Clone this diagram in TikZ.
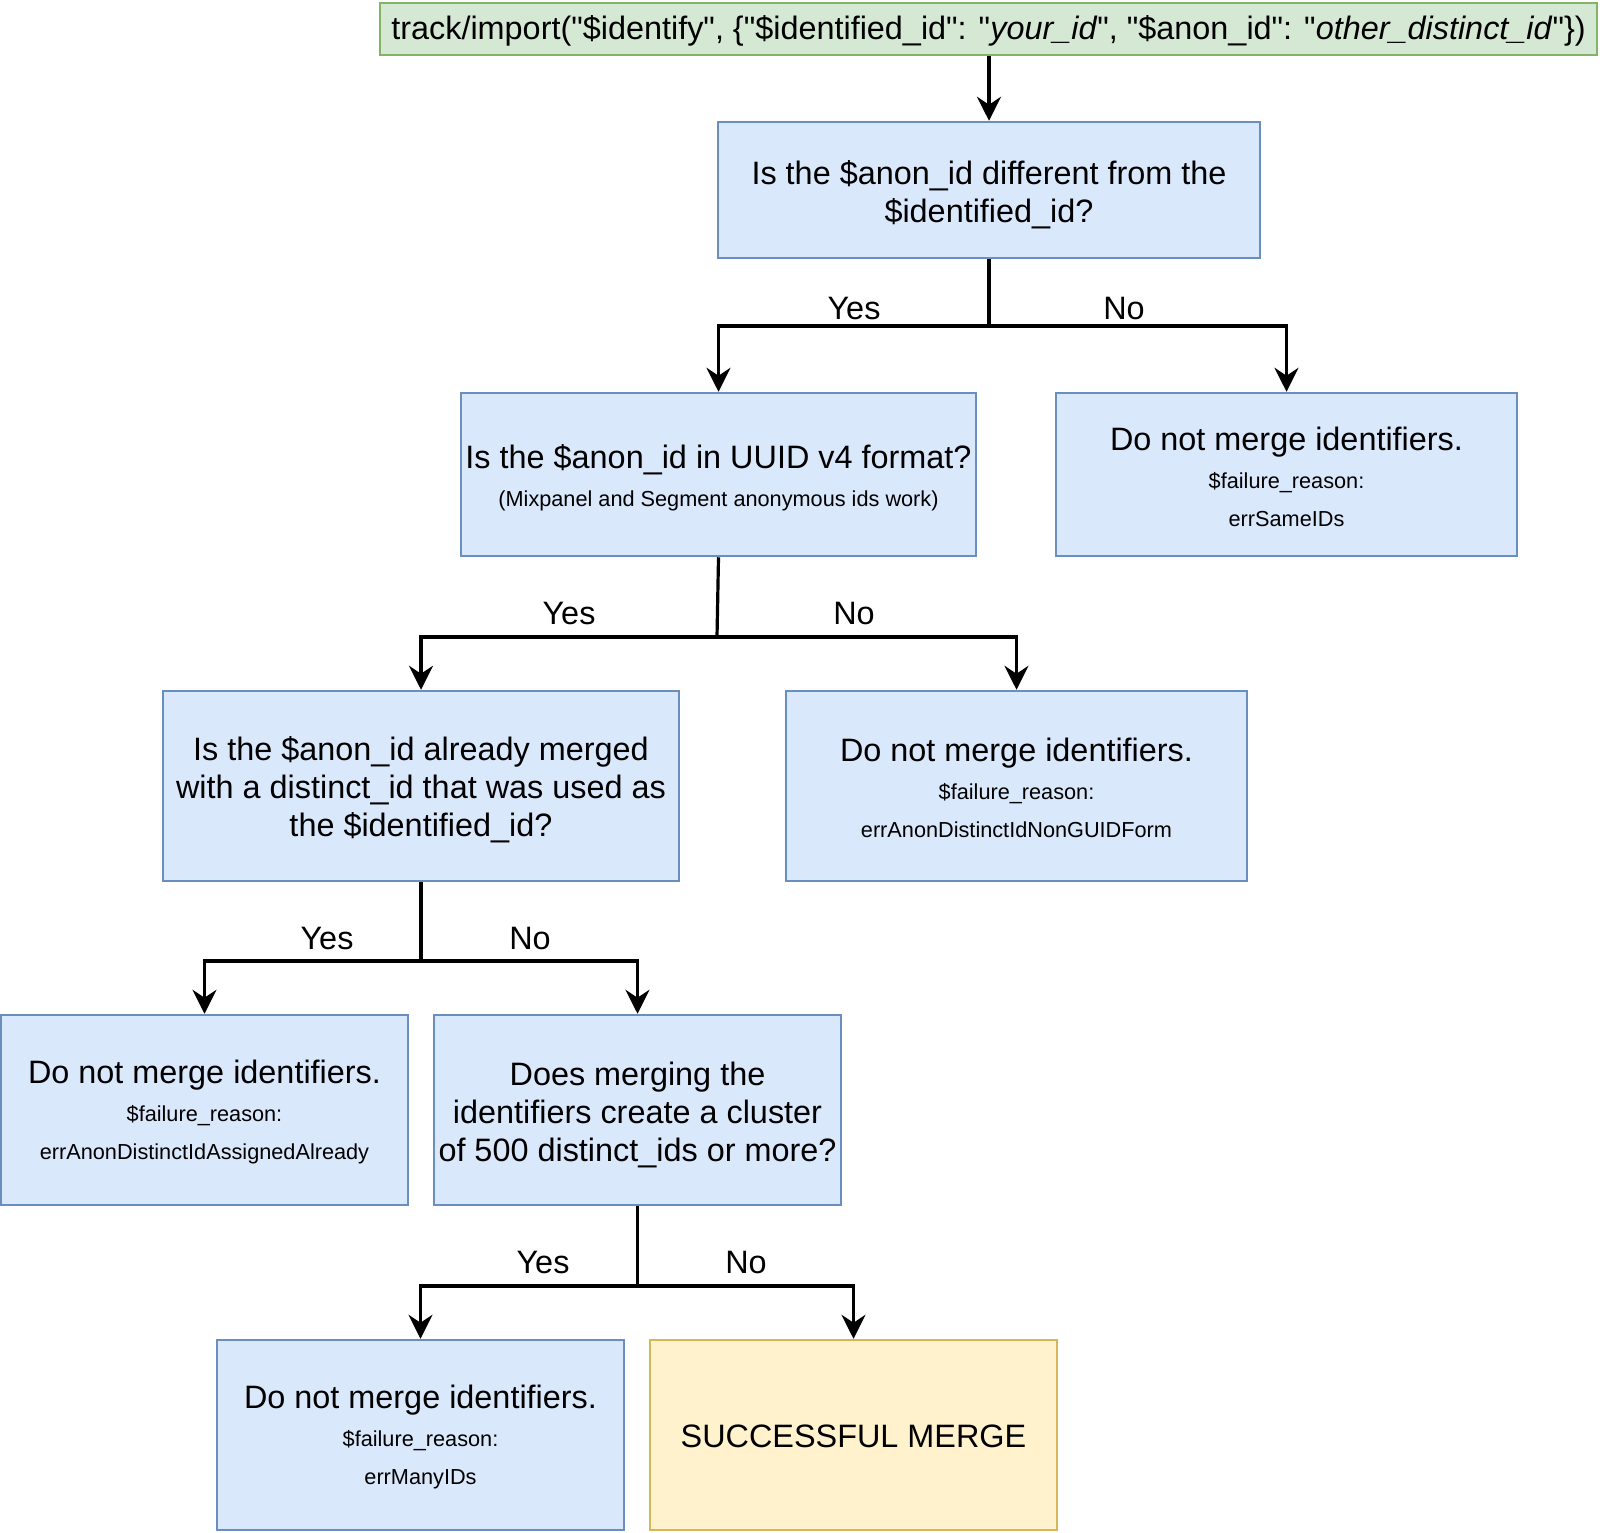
\documentclass[tikz,border=0pt]{standalone}
\usepackage{fontspec}
\setmainfont{Liberation Sans}[Ligatures=TeXOff]
\usetikzlibrary{arrows.meta}
\definecolor{bfill}{HTML}{DAE8FC}
\definecolor{bline}{HTML}{6C8EBF}
\definecolor{gfill}{HTML}{D5E8D4}
\definecolor{gline}{HTML}{82B366}
\definecolor{yfill}{HTML}{FFF2CC}
\definecolor{yline}{HTML}{D6B656}
\newcommand{\bigf}{\fontsize{32.4}{38}\selectfont}
\newcommand{\smallf}{\fontsize{21.7}{38}\selectfont}
\newcommand{\qq}{\char34\relax}
\tikzset{
  basebox/.style={rectangle, line width=2.5pt, inner sep=0pt},
  bluebox/.style={basebox, draw=bline, fill=bfill},
  greenbox/.style={basebox, draw=gline, fill=gfill},
  yellowbox/.style={basebox, draw=yline, fill=yfill},
  txt/.style={inner sep=0pt, align=center, font=\bigf},
  conn/.style={line width=3.2pt, draw=black, -{Stealth[length=24pt,width=24pt,inset=8pt]}},
  plainconn/.style={line width=3.2pt, draw=black},
  lbl/.style={font=\bigf, inner sep=0pt}
}
\begin{document}
\begin{tikzpicture}[x=1pt,y=-1pt]
\useasboundingbox (0,0) rectangle (1600,1532);

% boxes
\node[greenbox, minimum width=1217pt, minimum height=52pt] (top) at (988.5,29) {};
\node[bluebox, minimum width=542pt, minimum height=136pt] (q1) at (989,190) {};
\node[bluebox, minimum width=515pt, minimum height=163pt] (q2) at (718.5,474.5) {};
\node[bluebox, minimum width=461pt, minimum height=163pt] (f1) at (1286.5,474.5) {};
\node[bluebox, minimum width=516pt, minimum height=190pt] (q3) at (421,786) {};
\node[bluebox, minimum width=461pt, minimum height=190pt] (f2) at (1016.5,786) {};
\node[bluebox, minimum width=407pt, minimum height=190pt] (f3) at (204.5,1110) {};
\node[bluebox, minimum width=407pt, minimum height=190pt] (q4) at (637.5,1110) {};
\node[bluebox, minimum width=407pt, minimum height=190pt] (f4) at (420.5,1435) {};
\node[yellowbox, minimum width=407pt, minimum height=190pt] (ok) at (853.5,1435) {};

% texts
\node[txt] (topt) at ([yshift=-2pt]top.center)
  {track/import(\qq\$identify\qq, \{\qq\$identified\_id\qq: \qq\textit{your\_id}\qq, \qq\$anon\_id\qq: \qq\textit{other\_distinct\_id}\qq\})};
\node[txt] (q1t) at ([yshift=-5pt]q1.center)
  {Is the \$anon\_id different from the\\\$identified\_id?};
\node[txt] (q2t) at ([yshift=-3pt]q2.center)
  {Is the \$anon\_id in UUID v4 format?\\{\smallf (Mixpanel and Segment anonymous ids work)}};
\node[txt] (f1t) at ([yshift=-2pt]f1.center)
  {Do not merge identifiers.\\{\smallf \$failure\_reason:}\\{\smallf errSameIDs}};
\node[txt] (q3t) at ([yshift=-4pt]q3.center)
  {Is the \$anon\_id already merged\\with a distinct\_id that was used as\\the \$identified\_id?};
\node[txt] (f2t) at ([yshift=-2pt]f2.center)
  {Do not merge identifiers.\\{\smallf \$failure\_reason:}\\{\smallf errAnonDistinctIdNonGUIDForm}};
\node[txt] (f3t) at ([yshift=-2pt]f3.center)
  {Do not merge identifiers.\\{\smallf \$failure\_reason:}\\{\smallf errAnonDistinctIdAssignedAlready}};
\node[txt] (q4t) at ([yshift=-5pt]q4.center)
  {Does merging the\\identifiers create a cluster\\of 500 distinct\_ids or more?};
\node[txt] (f4t) at ([yshift=-2pt]f4.center)
  {Do not merge identifiers.\\{\smallf \$failure\_reason:}\\{\smallf errManyIDs}};
\node[txt] (okt) at ([yshift=-1pt]ok.center) {SUCCESSFUL MERGE};

% connectors
\draw[conn] (top.south -| q1.north) -- (q1.north);

\coordinate (s1) at (989,326);
\draw[plainconn] (q1.south) -- (s1);
\draw[conn] (s1) -| (q2.north);
\draw[conn] (s1) -| (f1.north);

\coordinate (s2) at (717,637);
\draw[plainconn] (q2.south) -- (s2);
\draw[conn] (s2) -| (q3.north);
\draw[conn] (s2) -| (f2.north);

\coordinate (s3) at (421,961);
\draw[plainconn] (q3.south) -- (s3);
\draw[conn] (s3) -| (f3.north);
\draw[conn] (s3) -| (q4.north);

\coordinate (s4) at (637.5,1286);
\draw[plainconn] (q4.south) -- (s4);
\draw[conn] (s4) -| (f4.north);
\draw[conn] (s4) -| (ok.north);

% labels
\node[lbl] (y1) at (854,309) {Yes};
\node[lbl] (n1) at (1124,309) {No};
\node[lbl] (y2) at (569,613) {Yes};
\node[lbl] (n2) at (854,613) {No};
\node[lbl] (y3) at (327,938) {Yes};
\node[lbl] (n3) at (530,938) {No};
\node[lbl] (y4) at (543,1262) {Yes};
\node[lbl] (n4) at (746,1262) {No};
\end{tikzpicture}
\end{document}
